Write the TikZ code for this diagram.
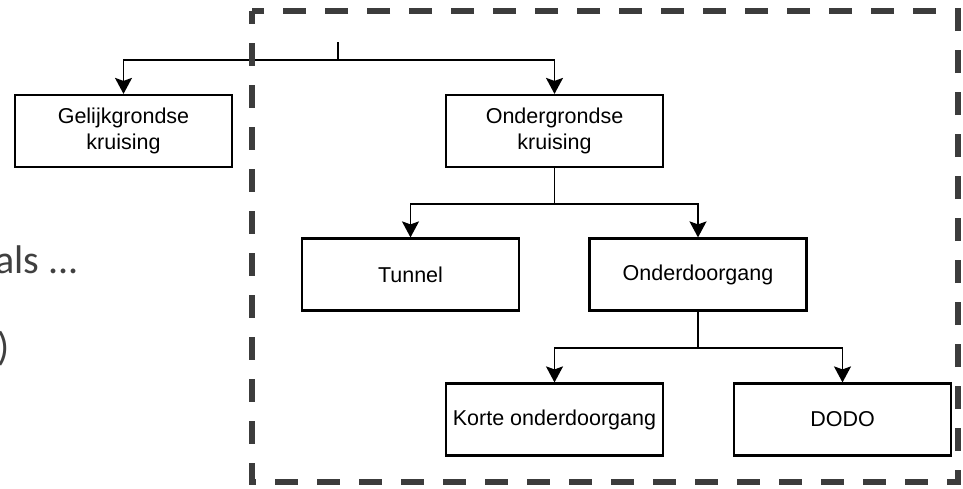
\documentclass[tikz,border=0pt]{standalone}
\usepackage{fontspec}
\setmainfont{Liberation Sans}
\newfontfamily\slidefont{Carlito}
\usetikzlibrary{arrows.meta,positioning}
\definecolor{slidegray}{HTML}{404040}
\definecolor{framegray}{HTML}{3C3C3C}

\begin{document}
\begin{tikzpicture}[x=1pt, y=-1pt]

 \tikzset{
   box/.style={rectangle, draw=black, line width=2.2pt, minimum width=217pt, minimum height=72pt, align=center, inner sep=2pt, font=\fontsize{21.5}{26}\selectfont},
   link/.style={line width=1.8pt},
   arrow/.style={link, -{Stealth[length=16pt, width=17pt, inset=3pt]}},
   frame/.style={draw=framegray, line width=6pt, dash pattern=on 23pt off 19pt, dash phase=10pt},
   slidetext/.style={inner sep=0pt, text=slidegray, font=\slidefont\fontsize{40}{48}\selectfont}
 }

 \useasboundingbox (0,0) rectangle (963,488);

 % Rows (box centres)
 \def\levelA{131}     % gelijk, onder
 \def\levelB{274.5}   % tunnel, doorgang
 \def\levelC{419.5}   % kort, dodo

 % Columns (box centres)
 \def\xposGelijk{123.5}
 \def\xposOnder{554.5}
 \def\xposTunnel{410.5}
 \def\xposDoorgang{698}
 \def\xposDodo{842.5}

 % Slide text cut off at the left
 \node[slidetext, anchor=base east] (als) at (79,273) {als ...};
 \node[slidetext, anchor=base east] (paren) at (10,360) {)};

 % Level A
 \node[box] (gelijk) at (\xposGelijk, \levelA) {Gelijkgrondse\\kruising};
 \node[box] (onder) at (\xposOnder, \levelA) {Ondergrondse\\kruising};

 % Level B
 \node[box] (tunnel) at (\xposTunnel, \levelB) {Tunnel};
 \node[box] (doorgang) at (\xposDoorgang, \levelB) {Onderdoorgang};

 % Level C
 \node[box] (kort) at (\xposOnder, \levelC) {Korte onderdoorgang};
 \node[box] (dodo) at (\xposDodo, \levelC) {DODO};

 % Connectors
 \coordinate (root) at (338,42);
 \coordinate (splitA) at (338,60);
 \draw[link] (root) -- (splitA);
 \draw[arrow] (splitA) -| (gelijk.north);
 \draw[arrow] (splitA) -| (onder.north);

 \draw[link] (onder.south) -- ++(0,36) coordinate (splitB);
 \draw[arrow] (splitB) -| (tunnel.north);
 \draw[arrow] (splitB) -| (doorgang.north);

 \draw[link] (doorgang.south) -- ++(0,36) coordinate (splitC);
 \draw[arrow] (splitC) -| (kort.north);
 \draw[arrow] (splitC) -| (dodo.north);

 % Dashed frame
 \draw[frame] (252,11) rectangle (958,482);

\end{tikzpicture}
\end{document}
